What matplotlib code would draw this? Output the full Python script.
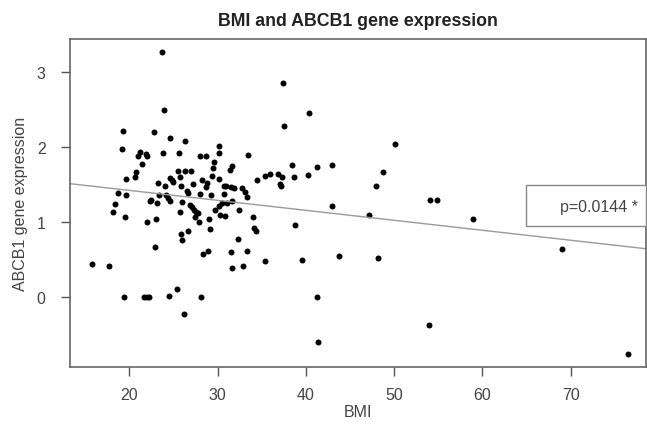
import numpy as np
import matplotlib
matplotlib.use("Agg")
import matplotlib.pyplot as plt
from matplotlib.patches import Rectangle

plt.rcParams['font.family'] = ['Liberation Sans', 'DejaVu Sans']

# BMI vs ABCB1 expression
bmi = [23.66, 23.97, 19.27, 22.8, 24.65, 26.3, 19.16, 30.2, 23.8, 25.67,
       21.2, 21.0, 21.9, 22.0, 21.4, 28.05, 28.7, 30.1, 33.4, 29.6,
       29.5, 31.6, 31.4, 20.7, 20.6, 19.66, 25.5, 26.3, 26.95, 29.4,
       30.1, 34.5, 23.2, 24.0, 27.2, 28.2, 28.8, 28.7, 24.6, 24.8,
       25.0, 25.7, 25.8, 26.5, 26.7, 30.7, 31.0, 31.5, 31.9, 32.8,
       33.1, 33.3, 18.75, 19.66, 18.4, 18.1, 19.5, 22.4, 22.3, 23.1,
       23.4, 24.15, 24.4, 24.6, 26.0, 25.7, 26.9, 27.1, 27.3, 27.5,
       27.8, 28.0, 29.2, 30.7, 29.7, 30.2, 30.5, 31.1, 31.6, 30.3,
       30.8, 32.4, 21.96, 22.98, 27.4, 27.9, 29.0, 34.06, 34.1, 34.4,
       25.8, 26.6, 25.95, 29.1, 32.3, 22.9, 28.3, 28.9, 31.5, 33.3,
       31.6, 32.9, 15.8, 17.7, 25.4, 19.4, 21.66, 22.04, 22.2, 24.5,
       28.1, 26.2, 37.46, 40.4, 37.5, 50.1, 38.4, 41.2, 42.9, 35.4,
       35.9, 36.8, 37.3, 37.1, 37.2, 38.7, 40.2, 48.75, 47.9, 54.0,
       54.8, 42.9, 47.2, 38.8, 35.4, 39.6, 43.7, 48.2, 41.3, 41.4,
       53.9, 58.96, 69.0, 76.5]
abcb1 = [3.27, 2.49, 2.21, 2.20, 2.11, 2.07, 1.97, 2.01, 1.91, 1.92,
         1.93, 1.88, 1.90, 1.88, 1.77, 1.88, 1.88, 1.92, 1.89, 1.79,
         1.72, 1.74, 1.69, 1.66, 1.60, 1.57, 1.68, 1.68, 1.67, 1.61,
         1.57, 1.56, 1.52, 1.47, 1.50, 1.56, 1.52, 1.46, 1.58, 1.55,
         1.53, 1.59, 1.47, 1.41, 1.38, 1.48, 1.48, 1.46, 1.45, 1.45,
         1.39, 1.33, 1.38, 1.36, 1.24, 1.13, 1.06, 1.29, 1.27, 1.25,
         1.35, 1.36, 1.31, 1.28, 1.26, 1.13, 1.22, 1.19, 1.16, 1.13,
         1.12, 1.37, 1.36, 1.37, 1.15, 1.21, 1.25, 1.25, 1.27, 1.09,
         1.08, 1.15, 0.99, 1.03, 1.06, 1.00, 1.04, 1.06, 0.91, 0.87,
         0.84, 0.88, 0.75, 0.90, 0.77, 0.66, 0.57, 0.61, 0.59, 0.61,
         0.38, 0.41, 0.44, 0.41, 0.10, 0.0, 0.0, 0.0, 0.0, 0.01,
         0.0, -0.23, 2.85, 2.45, 2.27, 2.03, 1.76, 1.73, 1.75, 1.61,
         1.64, 1.63, 1.59, 1.50, 1.47, 1.60, 1.62, 1.66, 1.47, 1.29,
         1.29, 1.21, 1.09, 0.96, 0.47, 0.49, 0.54, 0.52, 0.0, -0.60,
         -0.38, 1.03, 0.64, -0.77]

# regression line as drawn in the figure
fit_intercept = 1.684
fit_slope = -0.0133
p_text = "p=0.0144 *"

x_ticks = [20, 30, 40, 50, 60, 70]
y_ticks = [0, 1, 2, 3]

grey = '#555555'

fig = plt.figure(figsize=(6.47, 4.27), dpi=100)
ax = fig.add_axes([0.1082, 0.1382, 0.890, 0.768])

ax.plot(bmi, abcb1, 'o', color='black', markersize=4.3, markeredgewidth=0)
ax.axline((0, fit_intercept), slope=fit_slope, color='#9a9a9a', linewidth=1.0)

ax.set_xlim(13.28, 78.5)
ax.set_ylim(-0.937, 3.436)
ax.set_xticks(x_ticks)
ax.set_yticks(y_ticks)
ax.tick_params(direction='out', length=6.5, width=1.0, color=grey,
               labelsize=11.5, labelcolor='#444444')
ax.tick_params(axis='x', pad=8)
ax.tick_params(axis='y', pad=11)
for s in ax.spines.values():
    s.set_color('#666666')
    s.set_linewidth(1.2)

ax.set_title("BMI and ABCB1 gene expression", fontsize=12.8,
             fontweight='bold', color='#222222', pad=10)
ax.set_xlabel("BMI", fontsize=11.5, color='#444444', labelpad=1)
ax.set_ylabel("ABCB1 gene expression", fontsize=11.5, color='#444444', labelpad=6)

# p-value box
ax.add_patch(Rectangle((0.7925, 0.429), 0.2075, 0.125, transform=ax.transAxes,
                       facecolor='white', edgecolor='#888888', linewidth=1.0,
                       clip_on=False, zorder=3))
ax.text(0.986, 0.489, p_text, transform=ax.transAxes, ha='right', va='center',
        fontsize=11.5, color='#444444', zorder=4)

fig.savefig("out.png", dpi=100)
